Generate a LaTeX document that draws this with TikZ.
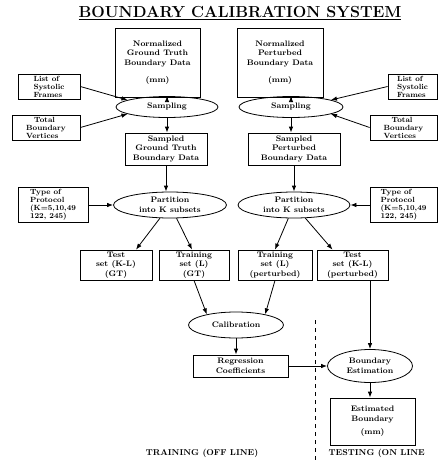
\documentclass[tikz,border=0pt]{standalone}
\usepackage{tikz}
\usetikzlibrary{calc,shapes.geometric,arrows,arrows.meta,positioning}
\tikzstyle{databox}=[draw,rectangle,align=center,inner sep=1pt,font=\bfseries\fontsize{8}{9.5}\selectfont]
\tikzstyle{sidebox}=[databox,align=left,inner sep=0.5pt,font=\bfseries\fontsize{7.5}{8}\selectfont]
\tikzstyle{process}=[draw,ellipse,align=center,inner sep=0pt,font=\bfseries\fontsize{8}{10}\selectfont]
\tikzstyle{heading}=[font=\bfseries\fontsize{16}{18}\selectfont]
\tikzstyle{phase}=[font=\bfseries\fontsize{8.5}{10}\selectfont]

\begin{document}
\begin{tikzpicture}[x=1pt,y=-1pt,line width=0.8pt,>={Latex[length=6pt,width=4.5pt]}]
\useasboundingbox (0,0) rectangle (440,461);
\draw (240,13) node [heading] (title) {\underline{BOUNDARY CALIBRATION SYSTEM}};
% input data
\draw (157.5,62.5) node [databox,minimum width=85,minimum height=69] (ngt) {Normalized\\Ground Truth\\Boundary Data\\[8pt](mm)};
\draw (280,62.5) node [databox,minimum width=86,minimum height=69] (npb) {Normalized\\Perturbed\\Boundary Data\\[8pt](mm)};
\draw (167,107) node [process,minimum width=102,minimum height=21] (samp1) {Sampling};
\draw (291,107) node [process,minimum width=104,minimum height=21] (samp2) {Sampling};
\draw (49,86.5) node [sidebox,minimum width=62,minimum height=25] (lsf1) {List of\\Systolic\\Frames};
\draw (46,127.5) node [sidebox,minimum width=68,minimum height=25] (tbv1) {\hspace{8pt}Total\\Boundary\\Vertices};
\draw (412.5,86.5) node [sidebox,minimum width=49,minimum height=25] (lsf2) {List of\\Systolic\\Frames};
\draw (403.5,127.5) node [sidebox,minimum width=67,minimum height=25] (tbv2) {\hspace{8pt}Total\\Boundary\\Vertices};
% sampled data
\draw (166,149) node [databox,minimum width=82,minimum height=32] (sgt) {Sampled\\Ground Truth\\Boundary Data};
\draw (294,149) node [databox,minimum width=92,minimum height=32] (spb) {Sampled\\Perturbed\\Boundary Data};
\draw (170,205) node [process,minimum width=113,minimum height=26] (part1) {Partition\\into K subsets};
\draw (294,205) node [process,minimum width=112,minimum height=26] (part2) {Partition\\into K subsets};
\draw (53,205) node [sidebox,minimum width=70,minimum height=35] (tp1) {Type of\\Protocol\\(K=5,10,49\\122, 245)};
\draw (403.5,205) node [sidebox,minimum width=67,minimum height=35] (tp2) {Type of\\Protocol\\(K=5,10,49\\122, 245)};
% subsets
\draw (116,265) node [databox,minimum width=72,minimum height=30] (tsgt) {Test\\set (K-L)\\(GT)};
\draw (194,265) node [databox,minimum width=70,minimum height=30] (trgt) {Training\\set (L)\\(GT)};
\draw (275,265) node [databox,minimum width=74,minimum height=30] (trpt) {Training\\set (L)\\(perturbed)};
\draw (352.5,265) node [databox,minimum width=71,minimum height=30] (tspt) {Test\\set (K-L)\\(perturbed)};
% training and testing
\draw (236,325) node [process,minimum width=95,minimum height=26] (calib) {Calibration};
\draw (240.5,366) node [databox,minimum width=95,minimum height=22] (regr) {Regression\\Coefficients};
\draw (370,366) node [process,minimum width=85,minimum height=33] (bndest) {Boundary\\Estimation};
\draw (372.5,421.5) node [databox,minimum width=85,minimum height=47] (estb) {Estimated\\Boundary\\[4pt](mm)};
\draw (202,453) node [phase] (train) {TRAINING (OFF LINE)};
\draw (325,453) node [phase,anchor=west] (test) {TESTING (ON LINE};
\coordinate (divtop) at (315,320);
\coordinate (divbot) at (315,461);
\draw[dashed,line width=0.6pt,dash pattern=on 4pt off 4pt] (divtop) -- (divbot);
% connectors
\draw[->] (ngt.south -| samp1) -- (samp1);
\draw[->] (npb.south -| samp2) -- (samp2);
\draw[->] (lsf1.east) -- (samp1.170);
\draw[->] (tbv1.east) -- (samp1.190);
\draw[->] (lsf2.west) -- (samp2.10);
\draw[->] (tbv2.west) -- (samp2.-10);
\draw[->] (samp1) -- (samp1 |- sgt.north);
\draw[->] (samp2) -- (samp2 |- spb.north);
\draw[->] (sgt.south) -- (sgt.south |- part1.north);
\draw[->] (spb.south) -- (part2);
\draw[->] (tp1) -- (part1);
\draw[->] (tp2) -- (part2);
\draw[->] (part1) -- ($(tsgt.north)+(20,0)$);
\draw[->] (part1) -- ($(trgt.north)+(-2,0)$);
\draw[->] (part2) -- (trpt.north);
\draw[->] (part2) -- ($(tspt.north)+(-20,0)$);
\draw[->] (trgt.south) -- (calib.160);
\draw[->] (trpt.south) -- (calib.20);
\draw[->] (calib) -- (calib |- regr.north);
\draw[->] (regr) -- (bndest);
\draw[->] (tspt.south -| bndest) -- (bndest);
\draw[->] (bndest) -- (bndest |- estb.north);
\end{tikzpicture}
\end{document}
